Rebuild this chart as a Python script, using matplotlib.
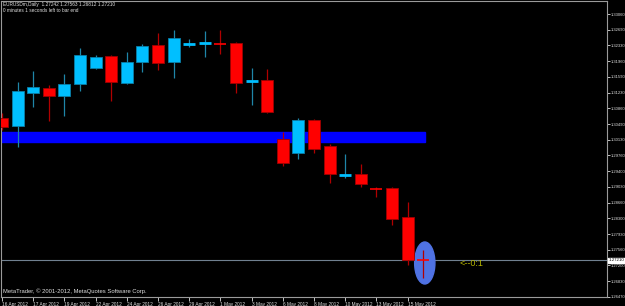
import matplotlib.pyplot as plt
from matplotlib.patches import Rectangle, Ellipse

# Velas diárias EURUSDm
opens = [1.30638, 1.30452, 1.31220, 1.31337, 1.31151, 1.31430, 1.31803, 1.32082,
         1.31453, 1.31942, 1.32338, 1.31942, 1.32361, 1.32373, 1.32385, 1.32385,
         1.31488, 1.31523, 1.30149, 1.29823, 1.30592, 1.29986, 1.29299, 1.29334,
         1.28993, 1.29008, 1.28333, 1.27343]
closes = [1.30429, 1.31267, 1.31360, 1.31151, 1.31430, 1.32105, 1.32059, 1.31477,
          1.31942, 1.32315, 1.31919, 1.32501, 1.32385, 1.32385, 1.32361, 1.31453,
          1.31511, 1.30778, 1.29590, 1.30592, 1.29916, 1.29334, 1.29318, 1.29101,
          1.28970, 1.28286, 1.27332, 1.27320]
highs = [1.30755, 1.31477, 1.31733, 1.31407, 1.31663, 1.32269, 1.32105, 1.32105,
         1.32175, 1.32361, 1.32618, 1.32687, 1.32478, 1.32664, 1.32687, 1.32408,
         1.31803, 1.31779, 1.30312, 1.30638, 1.30615, 1.30033, 1.29800, 1.29568,
         1.29031, 1.29031, 1.28682, 1.27564]
lows = [1.30359, 1.29963, 1.30894, 1.30568, 1.30685, 1.31267, 1.31779, 1.31034,
        1.31430, 1.31709, 1.31756, 1.31570, 1.32292, 1.32059, 1.32129, 1.31220,
        1.30941, 1.30755, 1.29520, 1.29683, 1.29823, 1.29125, 1.29241, 1.29031,
        1.28799, 1.28146, 1.27215, 1.26912]

date_labels = ["16 Apr 2012", "17 Apr 2012", "19 Apr 2012", "22 Apr 2012", "24 Apr 2012",
               "26 Apr 2012", "29 Apr 2012", "1 May 2012", "3 May 2012", "6 May 2012",
               "8 May 2012", "10 May 2012", "13 May 2012", "15 May 2012"]

price_labels = ["1.33060", "1.32690", "1.32330", "1.31960", "1.31590", "1.31230",
                "1.30860", "1.30490", "1.30130", "1.29760", "1.29400", "1.29030",
                "1.28660", "1.28300", "1.27930", "1.27560", "1.27200", "1.26830",
                "1.26470"]

zone_top = 1.30312
zone_bottom = 1.30079
current_price = 1.27320
current_label = "1.27210"
header = "EURUSDm,Daily  1.27242 1.27563 1.26812 1.27210"

bull = "#00BFFF"
bear = "#FF0000"
txt_col = "#E0E0E0"

plt.rcParams["font.family"] = ["Liberation Sans", "DejaVu Sans"]

fig = plt.figure(figsize=(6.25, 3.06), dpi=100, facecolor="black")
ax = fig.add_axes([1 / 625, 1 - 297 / 306, 606 / 625, 296 / 306])
ax.set_facecolor("black")

# Zona de suporte azul
ax.add_patch(Rectangle((-1, zone_bottom), 28.1, zone_top - zone_bottom,
                       color="#0000FF", zorder=1))

# Linha do preço atual
ax.axhline(current_price, color="#708090", lw=0.8, zorder=2)

# Elipse de destaque
ax.add_patch(Ellipse((27.1, 1.27262), 1.3, 0.00978, color="#4F72E3", zorder=3))

body_w = 0.77
for i in range(len(opens)):
    o, c, h, l = opens[i], closes[i], highs[i], lows[i]
    up = c >= o
    col = bull if up else bear
    wick_col = "#1F86A8" if up else "#B00000"
    ax.vlines(i, l, h, color=wick_col, lw=0.9, zorder=4)
    height = abs(c - o)
    if height < 0.0004:
        ax.hlines((o + c) / 2, i - body_w / 2, i + body_w / 2,
                  color=col, lw=2 if up else 1.2, zorder=5)
    else:
        ax.add_patch(Rectangle((i - body_w / 2, min(o, c)), body_w, height,
                               facecolor=col, edgecolor="#0A7FA8" if up else "#A00000",
                               lw=0.6, zorder=5))

ax.text(29.3, 1.27239, "<--0:1", color="#B4B400", fontsize=6.5, va="center", zorder=6)

# Eixos
ax.set_xlim(-0.064, 38.78)
ax.set_ylim(1.26470, 1.33363)

ax.set_xticks(range(0, 28, 2))
ax.set_xticklabels(date_labels, ha="left")
ax.tick_params(axis="x", colors=txt_col, labelsize=3.4, length=3, pad=0.5,
               direction="out", width=0.6)

ticks = [1.33060 - k * 0.00366 for k in range(len(price_labels))]
ax.set_yticks(ticks)
ax.set_yticklabels(price_labels)
ax.yaxis.tick_right()
ax.tick_params(axis="y", colors=txt_col, labelsize=3.0, length=2, pad=0.6,
               width=0.6)

for s in ax.spines.values():
    s.set_color("#9A9A9A")
    s.set_linewidth(0.8)

# Caixa do preço atual
ax.text(1.003, current_price, current_label, transform=ax.get_yaxis_transform(),
        fontsize=3.2, color="black", va="center", ha="left", zorder=10,
        bbox=dict(facecolor="white", edgecolor="white", pad=0.5), clip_on=False)

# Textos do cabeçalho e rodapé
ax.text(0.004, 0.997, header, transform=ax.transAxes, fontsize=3.4,
        color=txt_col, va="top", ha="left")
ax.text(0.004, 0.976, "0 minutes 1 seconds left to bar end", transform=ax.transAxes,
        fontsize=3.4, color=txt_col, va="top", ha="left")
ax.text(0.004, 0.01, "MetaTrader, \u00a9 2001-2012, MetaQuotes Software Corp.",
        transform=ax.transAxes, fontsize=4.2, color=txt_col, va="bottom", ha="left")

plt.savefig("out.png", dpi=100, facecolor="black")
